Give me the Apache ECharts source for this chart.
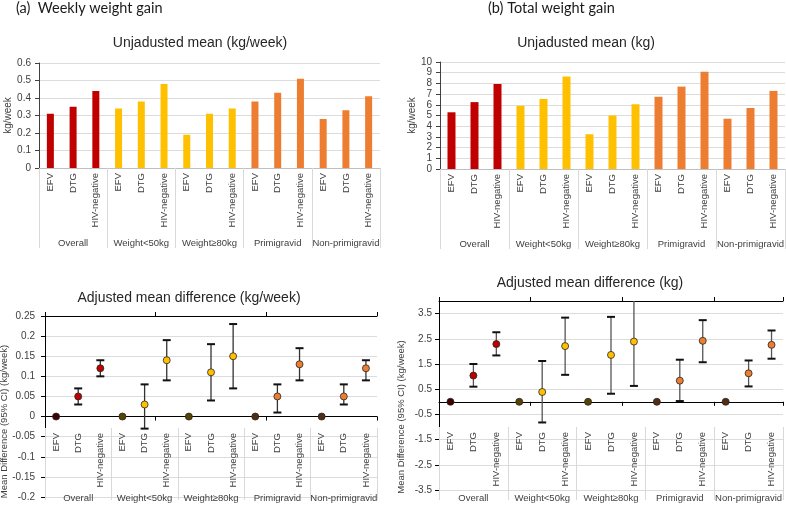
<!DOCTYPE html>
<html><head><meta charset="utf-8">
<script src="https://cdn.jsdelivr.net/npm/echarts@6/dist/echarts.min.js"></script>
<style>html,body{margin:0;padding:0;background:#fff}#c{width:786px;height:505px}</style>
</head><body><div id="c"></div>
<script>
// ---- data ----
const groups = ['Overall', 'Weight<50kg', 'Weight≥80kg', 'Primigravid', 'Non-primigravid'];
const arms = ['EFV', 'DTG', 'HIV-negative'];
const weeklyMean = [0.31, 0.35, 0.44, 0.34, 0.38, 0.48, 0.19, 0.31, 0.34, 0.38, 0.43, 0.51, 0.28, 0.33, 0.41];
const totalMean = [5.3, 6.25, 7.95, 5.9, 6.55, 8.65, 3.25, 5.0, 6.05, 6.75, 7.7, 9.1, 4.7, 5.7, 7.3];
const weeklyDiff = [0, 0.05, 0.12, 0, 0.03, 0.14, 0, 0.11, 0.15, 0, 0.05, 0.13, 0, 0.05, 0.12];
const weeklyLow  = [0, 0.03, 0.10, 0, -0.03, 0.09, 0, 0.04, 0.07, 0, 0.01, 0.09, 0, 0.03, 0.09];
const weeklyHigh = [0, 0.07, 0.14, 0, 0.08, 0.19, 0, 0.18, 0.23, 0, 0.08, 0.17, 0, 0.08, 0.14];
const totalDiff = [0, 1.04, 2.29, 0, 0.39, 2.21, 0, 1.86, 2.39, 0, 0.84, 2.42, 0, 1.13, 2.26];
const totalLow  = [0, 0.60, 1.84, 0, -0.82, 1.07, 0, 0.32, 0.63, 0, 0.03, 1.57, 0, 0.61, 1.71];
const totalHigh = [0, 1.50, 2.76, 0, 1.62, 3.34, 0, 3.37, 4.30, 0, 1.67, 3.24, 0, 1.64, 2.83];
const weeklyMeanAxis = [0, 0.6, 0.1];
const totalMeanAxis = [0, 10, 1];
const weeklyDiffAxis = [-0.2, 0.25, 0.05];
const totalDiffAxis = [-3.5, 4, 1];

// ---- styles ----
const groupColors = ['#C00000', '#FFC000', '#FFC000', '#ED7D31', '#ED7D31'];
const FONT = "'Liberation Sans', Arial, sans-serif";
const TXT = '#404040';
const cats = groups.flatMap(() => arms);

function shade(hex, f) {
  const n = parseInt(hex.slice(1), 16);
  const r = Math.round(((n >> 16) & 255) * f), g = Math.round(((n >> 8) & 255) * f), b = Math.round((n & 255) * f);
  return 'rgb(' + r + ',' + g + ',' + b + ')';
}

const chart = echarts.init(document.getElementById('c'), null, {renderer: 'canvas'});

const gridRects = [
  [39, 63, 341, 105], [39, 63, 341, 105],
  [440, 62, 345, 107], [440, 62, 345, 107],
  [45, 316, 332, 181], [45, 343, 332, 157],
  [439, 301, 344, 189], [439, 334, 344, 166],
  [45, 316, 332, 117], [439, 301, 344, 131]
];
const grids = gridRects.map(r => ({left: r[0], top: r[1], width: r[2], height: r[3], containLabel: false, outerBoundsMode: 'none'}));

function catLabelAxis(gi, margin, lineColor) {
  return {type: 'category', gridIndex: gi, data: cats, position: 'bottom',
    axisLine: {show: lineColor !== null, lineStyle: {color: lineColor || '#000', width: 1}},
    axisTick: {show: false},
    axisLabel: {rotate: 90, margin: margin, fontSize: 9.5, color: TXT, fontFamily: FONT, interval: 0}};
}
function groupAxis(gi, tickLen, inside, margin) {
  return {type: 'category', gridIndex: gi, data: groups, position: 'bottom',
    axisLine: {show: false},
    axisTick: {show: true, inside: inside, length: tickLen, lineStyle: {color: '#d9d9d9'}},
    axisLabel: {margin: margin, fontSize: 9.5, color: TXT, fontFamily: FONT, interval: 0}};
}
function zeroAxis(gi, pos) {
  return {type: 'category', gridIndex: gi, data: cats, position: pos,
    axisLine: {show: true, onZero: true, lineStyle: {color: '#000', width: 1}},
    axisTick: {show: true, length: 4, lineStyle: {color: '#000'}},
    axisLabel: {show: false}};
}
function valueAxis(gi, ax, name, gap, margin, lineColor, extra) {
  return Object.assign({type: 'value', gridIndex: gi, min: ax[0], max: ax[1], interval: ax[2],
    name: name, nameLocation: 'middle', nameGap: gap,
    nameTextStyle: {fontSize: 10, color: TXT, fontFamily: FONT},
    axisLine: {show: true, lineStyle: {color: lineColor, width: 1}},
    axisTick: {show: true, length: 4, lineStyle: {color: lineColor}},
    axisLabel: {margin: margin, fontSize: 10, color: TXT, fontFamily: FONT, showMinLabel: true, showMaxLabel: true},
    splitLine: {show: true, lineStyle: {color: '#dcdcdc', width: 1}}}, extra || {});
}
function nameAxis(gi, name, gap) {
  return {type: 'value', gridIndex: gi, name: name, nameLocation: 'middle', nameGap: gap,
    nameTextStyle: {fontSize: 9.5, color: TXT, fontFamily: FONT},
    axisLine: {show: false}, axisTick: {show: false}, axisLabel: {show: false}, splitLine: {show: false}};
}
function hiddenY(gi) { return {type: 'value', gridIndex: gi, show: false}; }

const xAxis = [
  catLabelAxis(0, 5, '#bfbfbf'),
  groupAxis(1, 80, false, 70),
  catLabelAxis(2, 5, '#bfbfbf'),
  groupAxis(3, 80, false, 70),
  zeroAxis(4, 'bottom'),
  zeroAxis(4, 'top'),
  groupAxis(5, 72, true, -7),
  zeroAxis(6, 'bottom'),
  zeroAxis(6, 'top'),
  groupAxis(7, 73, true, -7),
  catLabelAxis(8, 0, null),
  catLabelAxis(9, 0, null)
];
const yAxis = [
  valueAxis(0, weeklyMeanAxis, 'kg/week', 25, 8, '#404040'),
  hiddenY(1),
  valueAxis(2, totalMeanAxis, 'kg/week', 21, 8, '#404040'),
  hiddenY(3),
  valueAxis(4, weeklyDiffAxis, '', 0, 10, '#000'),
  nameAxis(5, 'Mean Difference (95% CI) (kg/week)', 36),
  valueAxis(6, totalDiffAxis, '', 0, 7, '#000', {axisLabel: {margin: 7, fontSize: 10, color: TXT, fontFamily: FONT, showMinLabel: true, showMaxLabel: false},
    splitLine: {show: true, showMaxLine: false, lineStyle: {color: '#dcdcdc', width: 1}}}),
  nameAxis(7, 'Mean Difference (95% CI) (kg/week)', 33),
  hiddenY(8),
  hiddenY(9)
];

function barSeries(xi, yi, vals, w) {
  return {type: 'bar', xAxisIndex: xi, yAxisIndex: yi, barWidth: w, silent: true,
    data: vals.map((v, i) => ({value: v, itemStyle: {color: groupColors[Math.floor(i / 3)]}}))};
}
function errSeries(xi, yi, low, high, lineColor) {
  return {type: 'custom', xAxisIndex: xi, yAxisIndex: yi, silent: true,
    encode: {x: 0, y: [1, 2]},
    data: low.map((l, i) => [i, l, high[i]]),
    renderItem: function (params, api) {
      const x = api.value(0);
      const p1 = api.coord([x, api.value(1)]);
      const p2 = api.coord([x, api.value(2)]);
      const cs = params.coordSys;
      const w = 4;
      if (api.value(1) === api.value(2)) return {type: 'group', children: []};
      return {type: 'group',
        clipPath: {type: 'rect', shape: {x: cs.x, y: cs.y, width: cs.width, height: cs.height}},
        children: [
          {type: 'line', shape: {x1: p1[0], y1: p1[1], x2: p2[0], y2: p2[1]}, style: {stroke: lineColor, lineWidth: 1.3}},
          {type: 'line', shape: {x1: p1[0] - w, y1: p1[1], x2: p1[0] + w, y2: p1[1]}, style: {stroke: '#111', lineWidth: 2}},
          {type: 'line', shape: {x1: p2[0] - w, y1: p2[1], x2: p2[0] + w, y2: p2[1]}, style: {stroke: '#111', lineWidth: 2}}
        ]};
    }};
}
function pointSeries(xi, yi, vals) {
  return {type: 'scatter', xAxisIndex: xi, yAxisIndex: yi, symbolSize: 7, silent: true,
    data: vals.map((v, i) => {
      const c = groupColors[Math.floor(i / 3)];
      return {value: [i, v], itemStyle: {color: i % 3 === 0 ? shade(c, 0.35) : c, borderColor: '#262626', borderWidth: 0.8, opacity: 1}};
    })};
}

const titleStyle = (t, x, y, size, fam, col) => ({type: 'text', x: x, y: y,
  style: {text: t, x: 0, y: 0, align: 'center', verticalAlign: 'middle', fontSize: size, fontFamily: fam, fill: col}});

chart.setOption({
  animation: false,
  backgroundColor: '#fff',
  grid: grids,
  xAxis: xAxis,
  yAxis: yAxis,
  graphic: [
    {type: 'text', left: 16, top: 1, style: {text: '(a)  Weekly weight gain', fontSize: 14.5, fontFamily: 'Lato, Carlito, sans-serif', fill: '#1a1a1a'}},
    {type: 'text', left: 488, top: 1, style: {text: '(b) Total weight gain', fontSize: 14.5, fontFamily: 'Lato, Carlito, sans-serif', fill: '#1a1a1a'}},
    titleStyle('Unjadusted mean (kg/week)', 200, 43, 14, FONT, '#262626'),
    titleStyle('Unjadusted mean (kg)', 586, 43, 14, FONT, '#262626'),
    titleStyle('Adjusted mean difference (kg/week)', 189, 298, 14, FONT, '#262626'),
    titleStyle('Adjusted mean difference (kg)', 590, 283, 14, FONT, '#262626')
  ],
  series: [
    barSeries(0, 0, weeklyMean, 7),
    barSeries(2, 2, totalMean, 8),
    errSeries(4, 4, weeklyLow, weeklyHigh, '#333'),
    pointSeries(4, 4, weeklyDiff),
    errSeries(7, 6, totalLow, totalHigh, '#555'),
    pointSeries(7, 6, totalDiff)
  ]
});
</script></body></html>
